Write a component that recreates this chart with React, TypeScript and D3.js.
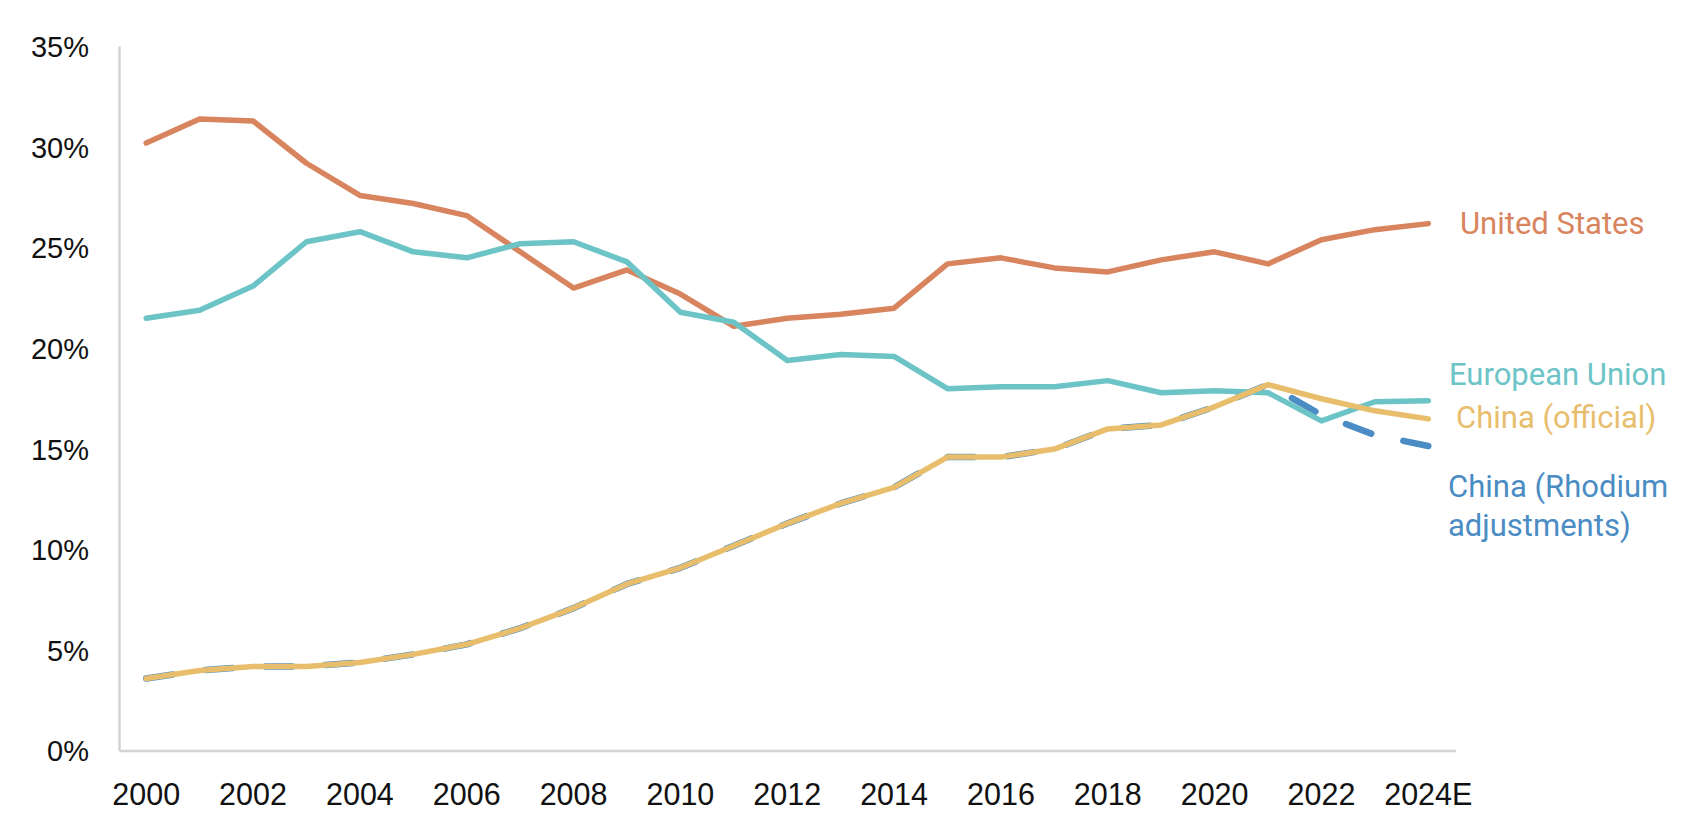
import React from "react";
import * as d3 from "d3";

const years = [
  "2000","2001","2002","2003","2004","2005","2006","2007","2008","2009",
  "2010","2011","2012","2013","2014","2015","2016","2017","2018","2019",
  "2020","2021","2022","2023","2024E",
];

const unitedStates = [
  30.2, 31.4, 31.3, 29.2, 27.6, 27.2, 26.6, 24.8, 23.0, 23.9,
  22.7, 21.1, 21.5, 21.7, 22.0, 24.2, 24.5, 24.0, 23.8, 24.4,
  24.8, 24.2, 25.4, 25.9, 26.2,
];

const europeanUnion = [
  21.5, 21.9, 23.1, 25.3, 25.8, 24.8, 24.5, 25.2, 25.3, 24.3,
  21.8, 21.3, 19.4, 19.7, 19.6, 18.0, 18.1, 18.1, 18.4, 17.8,
  17.9, 17.8, 16.4, 17.35, 17.4,
];

const chinaOfficial = [
  3.6, 4.0, 4.2, 4.2, 4.4, 4.8, 5.3, 6.1, 7.1, 8.3,
  9.1, 10.2, 11.3, 12.3, 13.1, 14.6, 14.6, 15.0, 16.0, 16.2,
  17.1, 18.2, 17.5, 16.9, 16.5,
];

const chinaRhodium = [
  3.6, 4.0, 4.2, 4.2, 4.4, 4.8, 5.3, 6.1, 7.1, 8.3,
  9.1, 10.2, 11.3, 12.3, 13.1, 14.6, 14.6, 15.0, 16.0, 16.2,
  17.1, 18.2, 16.7, 15.7, 15.15,
];

const yTicks = [0, 5, 10, 15, 20, 25, 30, 35];

const COLORS = {
  us: "#D8845E",
  eu: "#6CC4C7",
  cnOff: "#E8BE6D",
  cnRh: "#4A8CC3",
  axis: "#D3D3D3",
};

export default function App() {
  const W = 1706;
  const H = 838;
  const x = d3.scaleBand<string>().domain(years).range([119.5, 1455]).paddingInner(0).paddingOuter(0);
  const y = d3.scaleLinear().domain([0, 35]).range([751, 46.5]);
  const cx = (i: number) => (x(years[i]) as number) + x.bandwidth() / 2;

  const line = d3
    .line<number>()
    .x((_, i) => cx(i))
    .y((d) => y(d));

  const tickFont = "'Liberation Sans', Arial, sans-serif";
  const labelFont = "Roboto, 'Noto Sans', sans-serif";

  return (
    <svg
      width={W}
      height={H}
      style={{ position: "absolute", left: 0, top: 0, background: "#fff" }}
    >
      <rect x={0} y={0} width={W} height={H} fill="#fff" />
      {/* axes */}
      <line x1={119.5} x2={119.5} y1={y(35)} y2={y(0)} stroke={COLORS.axis} strokeWidth={2.5} />
      <line x1={119.5} x2={1456} y1={y(0)} y2={y(0)} stroke={COLORS.axis} strokeWidth={2.5} />

      {/* y tick labels */}
      {yTicks.map((t) => (
        <text
          key={t}
          x={89}
          y={y(t)}
          dy="0.36em"
          textAnchor="end"
          fontFamily={tickFont}
          fontSize={29}
          fill="#111"
        >
          {t}%
        </text>
      ))}

      {/* x tick labels */}
      {years.map((yr, i) =>
        i % 2 === 0 ? (
          <text
            key={yr}
            x={cx(i)}
            y={805}
            textAnchor="middle"
            fontFamily={tickFont}
            fontSize={30.5}
            fill="#111"
          >
            {yr}
          </text>
        ) : null
      )}

      {/* lines */}
      <path d={line(unitedStates) || ""} fill="none" stroke={COLORS.us} strokeWidth={5.5} strokeLinejoin="round" strokeLinecap="round" />
      <path d={line(chinaRhodium) || ""} fill="none" stroke={COLORS.cnRh} strokeWidth={6.5} strokeDasharray="27 33" strokeLinejoin="round" strokeLinecap="round" />
      <path d={line(europeanUnion) || ""} fill="none" stroke={COLORS.eu} strokeWidth={5.5} strokeLinejoin="round" strokeLinecap="round" />
      <path d={line(chinaOfficial) || ""} fill="none" stroke={COLORS.cnOff} strokeWidth={5.5} strokeLinejoin="round" strokeLinecap="round" />

      {/* labels */}
      <text x={1460} y={223} dy="0.36em" fontFamily={labelFont} fontSize={31} fill={COLORS.us}>United States</text>
      <text x={1449} y={374} dy="0.36em" fontFamily={labelFont} fontSize={31} fill={COLORS.eu}>European Union</text>
      <text x={1456} y={417} dy="0.36em" fontFamily={labelFont} fontSize={31} fill={COLORS.cnOff}>China (official)</text>
      <text x={1448} y={486} dy="0.36em" fontFamily={labelFont} fontSize={31} fill={COLORS.cnRh}>China (Rhodium</text>
      <text x={1448} y={525} dy="0.36em" fontFamily={labelFont} fontSize={31} fill={COLORS.cnRh}>adjustments)</text>
    </svg>
  );
}
